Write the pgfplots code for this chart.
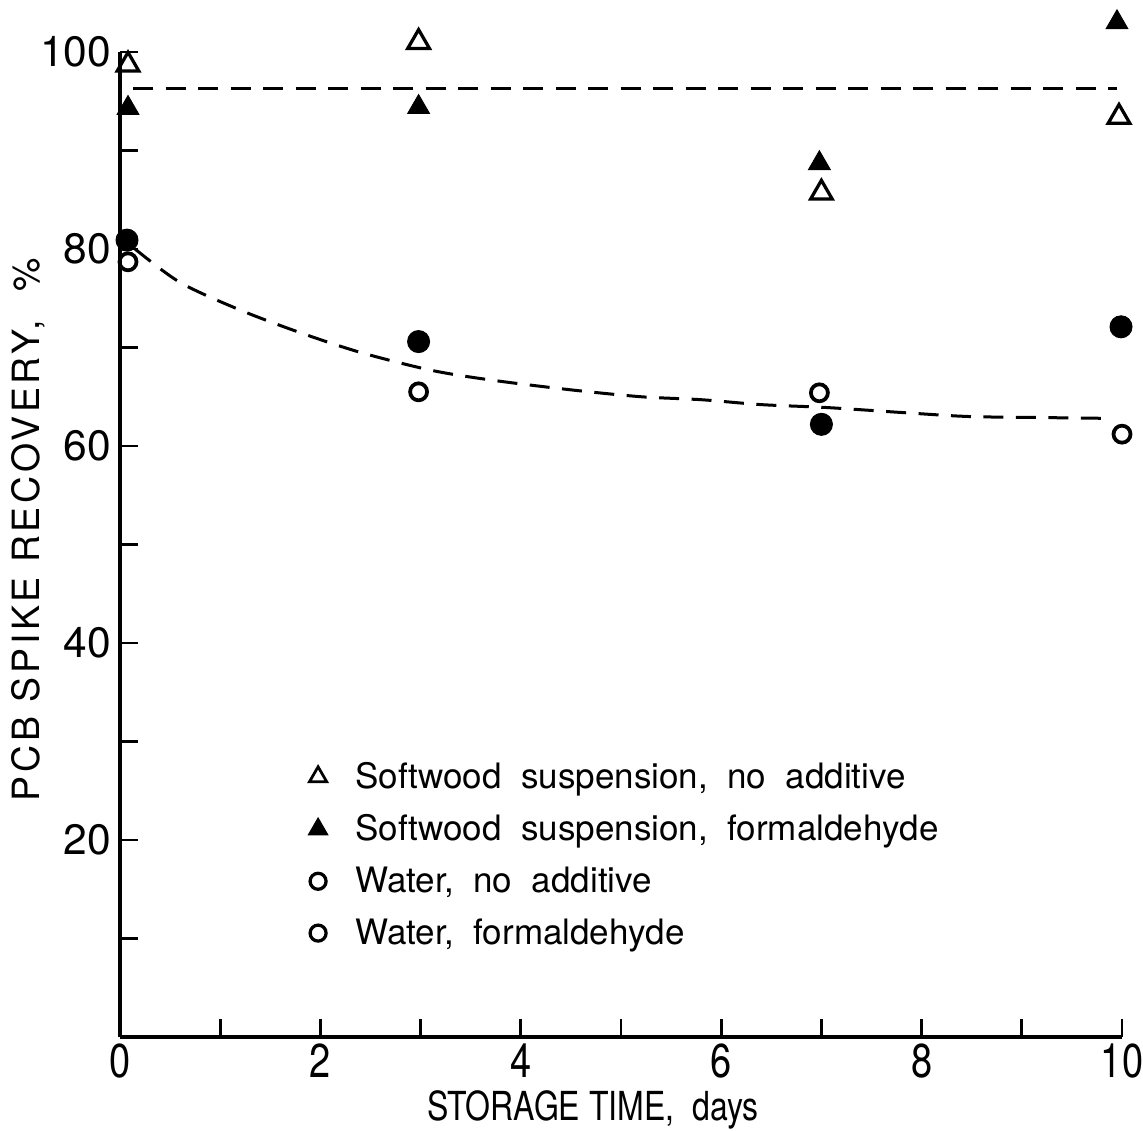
\documentclass[border=0pt]{standalone}
\usepackage{fontspec}
\setmainfont{TeX Gyre Heros}
\newfontfamily\condfont[FakeStretch=0.8]{TeX Gyre Heros}
\newfontfamily\spacedfont[LetterSpace=10]{TeX Gyre Heros}
\usepackage{pgfplots}
\pgfplotsset{compat=1.18}
\begin{document}
\begin{tikzpicture}
\begin{axis}[name=ax, scale only axis, width=400.8pt, height=394pt,
  xmin=0, xmax=10, ymin=0, ymax=100, clip=false,
  axis lines=left, axis line style={-, line width=1.6pt},
  xtick={0,1,...,10}, xticklabels={0,,2,,4,,6,,8,,10},
  ytick={0,10,...,100}, yticklabels={,,20,,40,,60,,80,,100},
  tick align=inside, major tick length=7pt,
  tick style={line width=1.1pt, black},
  xticklabel style={font=\condfont\fontsize{19}{21}\selectfont, yshift=1pt},
  yticklabel style={font=\fontsize{17}{20}\selectfont},
  xlabel={\condfont STORAGE TIME,\ \ days},
  xlabel style={font=\fontsize{16}{19}\selectfont, at={(axis description cs:0.472,0)}, anchor=center, yshift=-29pt},
  ylabel={\spacedfont PCB SPIKE RECOVERY,\ \ \%},
  ylabel style={font=\fontsize{15}{18}\selectfont, at={(axis description cs:-0.092,0.515)}, anchor=center},
  legend style={at={(axis description cs:0.18,0.29)}, anchor=north west, draw=none, fill=none,
    font=\fontsize{14}{16}\selectfont, row sep=5pt,
    /tikz/every odd column/.append style={column sep=9pt}},
  legend cell align=left,
]
% horizontal dashed line
\addplot[black, line width=1.2pt, dash pattern=on 8pt off 5pt, forget plot] coordinates {(0.13,96.3) (9.95,96.3)};
% fitted decay curve
\addplot[black, line width=1.2pt, dash pattern=on 8pt off 5pt, smooth, forget plot] coordinates {
(0.15,80.0) (0.6,76.6) (1.2,73.8) (1.8,71.5) (2.4,69.5) (3.1,67.7) (3.7,66.7) (4.5,65.7)
(5.2,65.0) (5.8,64.7) (6.4,64.2) (7.06,63.9) (7.8,63.4) (8.45,63.0) (9.1,62.9) (9.9,62.8)};
% Softwood, no additive (open triangle)
\addplot[only marks, mark=triangle, mark size=5pt, line width=1.3pt, black, forget plot] coordinates {(0.08,98.7) (2.98,101.0) (7.0,85.7) (9.97,93.4)};
% Softwood, formaldehyde (filled triangle)
\addplot[only marks, mark=triangle*, mark size=5pt, black, forget plot] coordinates {(0.08,94.3) (2.98,94.4) (6.98,88.7) (9.95,103.0)};
% Water, formaldehyde (filled circle)
\addplot[only marks, mark=*, mark size=4.4pt, black, forget plot] coordinates {(0.07,80.9) (2.98,70.6) (7.0,62.2) (9.99,72.1)};
% Water, no additive (open circle)
\addplot[only marks, mark=o, mark size=3.4pt, line width=1.5pt, black, forget plot] coordinates {(0.08,78.7) (2.98,65.5) (6.98,65.4) (10.0,61.2)};
\addlegendimage{only marks, mark=triangle, mark size=4pt, line width=1.1pt, black}
\addlegendentry{Softwood\ \ suspension,\ \ no\ \ additive}
\addlegendimage{only marks, mark=triangle*, mark size=4.5pt, black}
\addlegendentry{Softwood\ \ suspension,\ \ formaldehyde}
\addlegendimage{only marks, mark=o, mark size=3.2pt, line width=1.3pt, black}
\addlegendentry{Water,\ \ no\ \ additive}
\addlegendimage{only marks, mark=o, mark size=3.2pt, line width=1.3pt, black}
\addlegendentry{Water,\ \ formaldehyde}
\end{axis}
\pgfresetboundingbox
\path[use as bounding box] ([xshift=-48pt,yshift=-37.2pt]ax.south west) rectangle ([xshift=8.4pt,yshift=20.8pt]ax.north east);
\end{tikzpicture}
\end{document}
